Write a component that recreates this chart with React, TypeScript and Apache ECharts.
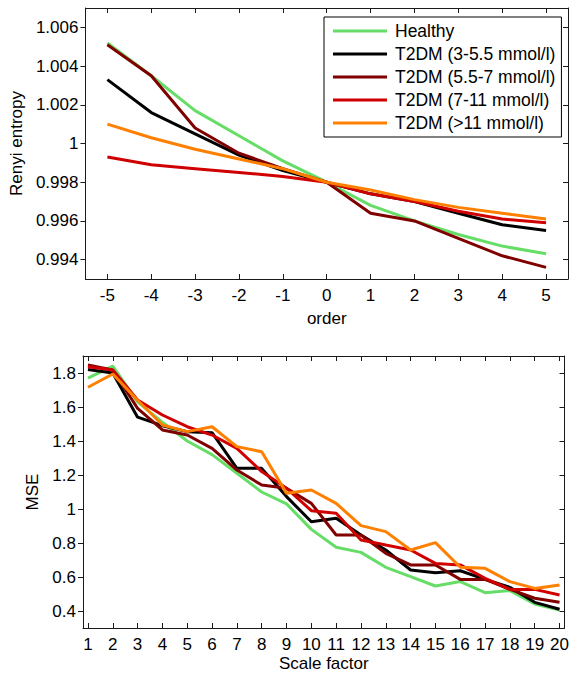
import React, { useEffect, useRef } from "react";
import * as echarts from "echarts";

const seriesNames = [
  "Healthy",
  "T2DM (3-5.5 mmol/l)",
  "T2DM (5.5-7 mmol/l)",
  "T2DM (7-11 mmol/l)",
  "T2DM (>11 mmol/l)",
];
const seriesColors = ["#66DD66", "#000000", "#800000", "#D00000", "#FF8000"];

const renyiOrders = [-5, -4, -3, -2, -1, 0, 1, 2, 3, 4, 5];
const renyiHealthy = [1.0052, 1.0035, 1.0017, 1.0004, 0.9991, 0.998, 0.9968, 0.996, 0.9953, 0.9947, 0.9943];
const renyiT2dm1 = [1.0033, 1.0016, 1.0005, 0.9994, 0.9986, 0.998, 0.9974, 0.997, 0.9964, 0.9958, 0.9955];
const renyiT2dm2 = [1.0051, 1.0035, 1.0008, 0.9995, 0.9987, 0.998, 0.9964, 0.996, 0.9951, 0.9942, 0.9936];
const renyiT2dm3 = [0.9993, 0.9989, 0.9987, 0.9985, 0.9983, 0.998, 0.9974, 0.997, 0.9965, 0.9961, 0.9959];
const renyiT2dm4 = [1.001, 1.0003, 0.9997, 0.9992, 0.9987, 0.998, 0.9976, 0.9971, 0.9967, 0.9964, 0.9961];

const scaleFactors = [1, 2, 3, 4, 5, 6, 7, 8, 9, 10, 11, 12, 13, 14, 15, 16, 17, 18, 19, 20];
const mseHealthy = [1.77, 1.84, 1.63, 1.51, 1.4, 1.32, 1.21, 1.1, 1.03, 0.88, 0.775, 0.745, 0.657, 0.602, 0.547, 0.573, 0.508, 0.52, 0.441, 0.406];
const mseT2dm1 = [1.82, 1.8, 1.54, 1.49, 1.455, 1.449, 1.239, 1.239, 1.073, 0.925, 0.945, 0.847, 0.759, 0.641, 0.625, 0.637, 0.586, 0.539, 0.451, 0.41];
const mseT2dm2 = [1.847, 1.818, 1.592, 1.465, 1.435, 1.357, 1.229, 1.141, 1.122, 1.033, 0.847, 0.847, 0.739, 0.671, 0.671, 0.586, 0.586, 0.527, 0.475, 0.451];
const mseT2dm3 = [1.837, 1.818, 1.641, 1.553, 1.484, 1.435, 1.357, 1.22, 1.122, 0.99, 0.975, 0.818, 0.788, 0.759, 0.68, 0.671, 0.592, 0.527, 0.527, 0.494];
const mseT2dm4 = [1.716, 1.794, 1.64, 1.494, 1.455, 1.484, 1.367, 1.337, 1.092, 1.112, 1.033, 0.902, 0.867, 0.759, 0.802, 0.657, 0.651, 0.573, 0.533, 0.553];

const renyiYTicks = [0.994, 0.996, 0.998, 1, 1.002, 1.004, 1.006];
const mseYTicks = [0.4, 0.6, 0.8, 1, 1.2, 1.4, 1.6, 1.8];

const FONT = "'Liberation Sans', Arial, sans-serif";
const AXIS_COLOR = "#1a1a1a";

const fmt = (v: number) => String(Number(v.toFixed(3)));

function makeAxes(
  gridIndex: number,
  xMin: number,
  xMax: number,
  xTicks: number[],
  yMin: number,
  yMax: number,
  yTicks: number[],
  xName: string,
  yName: string,
  xNameGap: number,
  yNameGap: number
) {
  const lineStyle = { color: AXIS_COLOR, width: 1 };
  const labelStyle = { color: "#000", fontSize: 17, fontFamily: FONT };
  const nameStyle = { color: "#000", fontSize: 17, fontFamily: FONT };
  const xAxes = [
    {
      type: "value",
      gridIndex,
      position: "bottom",
      min: xMin,
      max: xMax,
      name: xName,
      nameLocation: "middle",
      nameGap: xNameGap,
      nameTextStyle: nameStyle,
      axisLine: { show: true, onZero: false, lineStyle },
      axisTick: { show: true, inside: true, length: 5, lineStyle, customValues: xTicks },
      axisLabel: { show: true, margin: 8, ...labelStyle, customValues: xTicks, formatter: fmt },
      splitLine: { show: false },
    },
    {
      type: "value",
      gridIndex,
      position: "top",
      min: xMin,
      max: xMax,
      axisLine: { show: true, onZero: false, lineStyle },
      axisTick: { show: true, inside: true, length: 5, lineStyle, customValues: xTicks },
      axisLabel: { show: false },
      splitLine: { show: false },
    },
  ];
  const yAxes = [
    {
      type: "value",
      gridIndex,
      position: "left",
      min: yMin,
      max: yMax,
      name: yName,
      nameLocation: "middle",
      nameGap: yNameGap,
      nameRotate: 90,
      nameTextStyle: nameStyle,
      axisLine: { show: true, onZero: false, lineStyle },
      axisTick: { show: true, inside: false, length: 5, lineStyle, customValues: yTicks },
      axisLabel: { show: true, margin: 7, ...labelStyle, customValues: yTicks, formatter: fmt },
      splitLine: { show: false },
    },
    {
      type: "value",
      gridIndex,
      position: "right",
      min: yMin,
      max: yMax,
      axisLine: { show: true, onZero: false, lineStyle },
      axisTick: { show: true, inside: true, length: 5, lineStyle, customValues: yTicks },
      axisLabel: { show: false },
      splitLine: { show: false },
    },
  ];
  return { xAxes, yAxes };
}

export default function App() {
  const ref = useRef<HTMLDivElement>(null);

  useEffect(() => {
    document.body.style.margin = "0";
    if (!ref.current) return;
    const chart = echarts.init(ref.current, null, { renderer: "svg" });

    const top = makeAxes(0, -5.5, 5.5, renyiOrders, 0.993, 1.007, renyiYTicks, "order", "Renyi entropy", 31, 48);
    const bottom = makeAxes(1, 0.8, 20.2, scaleFactors, 0.3, 1.9, mseYTicks, "Scale factor", "MSE", 27, 41);

    const renyiSets = [renyiHealthy, renyiT2dm1, renyiT2dm2, renyiT2dm3, renyiT2dm4];
    const mseSets = [mseHealthy, mseT2dm1, mseT2dm2, mseT2dm3, mseT2dm4];

    const series: any[] = [];
    renyiSets.forEach((vals, i) => {
      series.push({
        type: "line",
        name: seriesNames[i],
        xAxisIndex: 0,
        yAxisIndex: 0,
        data: renyiOrders.map((x, k) => [x, vals[k]]),
        symbol: "none",
        color: seriesColors[i],
        lineStyle: { color: seriesColors[i], width: 3 },
        z: 2 + i,
      });
    });
    mseSets.forEach((vals, i) => {
      series.push({
        type: "line",
        name: seriesNames[i],
        xAxisIndex: 2,
        yAxisIndex: 2,
        data: scaleFactors.map((x, k) => [x, vals[k]]),
        symbol: "none",
        color: seriesColors[i],
        lineStyle: { color: seriesColors[i], width: 3 },
        z: 2 + i,
      });
    });

    chart.setOption({
      animation: false,
      backgroundColor: "#fff",
      grid: [
        { left: 83, top: 8, width: 485, height: 271 },
        { left: 83, top: 356, width: 485, height: 272 },
      ],
      xAxis: [...top.xAxes, ...bottom.xAxes],
      yAxis: [...top.yAxes, ...bottom.yAxes],
      legend: {
        show: true,
        orient: "vertical",
        left: 324,
        top: 17,
        data: seriesNames,
        selectedMode: false,
        icon: "rect",
        itemWidth: 54,
        itemHeight: 3,
        itemGap: 3,
        padding: [4, 6, 4, 9],
        borderColor: "#000",
        borderWidth: 1,
        backgroundColor: "#fff",
        textStyle: { color: "#000", fontSize: 17.5, fontFamily: FONT, lineHeight: 20, padding: [0, 0, 0, 3] },
      },
      series,
    });

    return () => chart.dispose();
  }, []);

  return <div ref={ref} style={{ width: 572, height: 677 }} />;
}
